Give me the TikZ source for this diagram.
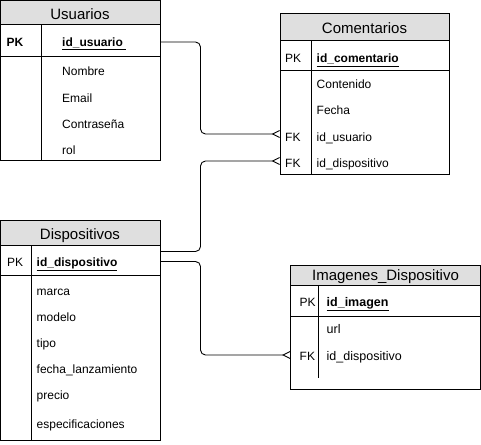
\documentclass[tikz,border=0pt]{standalone}
\usepackage{fontspec}
\setmainfont{Liberation Sans}
\usetikzlibrary{arrows.meta}

\begin{document}
\begin{tikzpicture}[x=1pt, y=-1pt,
  hdr/.style={fill=gray!25, draw=black, line width=1pt},
  box/.style={draw=black, line width=1pt},
  ttl/.style={anchor=base, font=\fontsize{15}{18}\selectfont, inner sep=0pt},
  fld/.style={anchor=base west, font=\fontsize{12}{14}\selectfont, inner sep=0pt},
  rel/.style={draw=black, line width=0.9pt, rounded corners=5pt,
    -{Straight Barb[reversed, length=7pt, width=7pt]}}]
\useasboundingbox (0,0) rectangle (481,444);

% Usuarios
\draw[hdr] (0.5,0.5) rectangle (160,25);
\draw[box] (0.5,0.5) rectangle (160,160.5);
\draw[box] (0.5,56) -- (160,56) (41,25) -- (41,160.5);
\node[ttl] (usr-ttl) at (80,19.5) {Usuarios};
\node[fld, font=\fontsize{12}{14}\selectfont\bfseries] (usr-pk) at (6.5,46.5) {PK};
\node[fld, font=\fontsize{12}{14}\selectfont\bfseries] (usr-id) at (62,46.5) {\underline{id\_usuario\ }};
\node[fld] (usr-nombre) at (62,75.5) {Nombre};
\node[fld] (usr-email) at (62,102) {Email};
\node[fld] (usr-pass) at (62,128.5) {Contraseña};
\node[fld] (usr-rol) at (62,154.5) {rol};
\coordinate (usr-out) at (160,42);

% Comentarios
\draw[hdr] (280,14) rectangle (449,41);
\draw[box] (280,14) rectangle (449,174);
\draw[box] (280,70) -- (449,70) (311,41) -- (311,174);
\node[ttl] (com-ttl) at (364.5,33.5) {Comentarios};
\node[fld] (com-pk) at (285,63) {PK};
\node[fld, font=\fontsize{12}{14}\selectfont\bfseries] (com-id) at (316.5,63) {\underline{id\_comentario}};
\node[fld] (com-cont) at (316.5,88.5) {Contenido};
\node[fld] (com-fecha) at (316.5,114.5) {Fecha};
\node[fld] (com-fk1) at (285,141) {FK};
\node[fld] (com-usr) at (316.5,141) {id\_usuario};
\node[fld] (com-fk2) at (285,167.5) {FK};
\node[fld] (com-disp) at (316.5,167.5) {id\_dispositivo};
\coordinate (com-in1) at (280,134);
\coordinate (com-in2) at (280,161);

% Dispositivos
\draw[hdr] (0.5,220) rectangle (160,245);
\draw[box] (0.5,220) rectangle (160,440);
\draw[box] (0.5,275) -- (160,275) (31,245) -- (31,440);
\node[ttl] (dis-ttl) at (80,239.5) {Dispositivos};
\node[fld] (dis-pk) at (7,266.5) {PK};
\node[fld, font=\fontsize{12}{14}\selectfont\bfseries] (dis-id) at (36.5,266.5) {\underline{id\_dispositivo}};
\node[fld] (dis-marca) at (36.5,295) {marca};
\node[fld] (dis-modelo) at (36.5,321.5) {modelo};
\node[fld] (dis-tipo) at (36.5,347) {tipo};
\node[fld] (dis-fecha) at (36.5,373.5) {fecha\_lanzamiento};
\node[fld] (dis-precio) at (36.5,399.5) {precio};
\node[fld] (dis-espec) at (36.5,428.5) {especificaciones};
\coordinate (dis-out1) at (160,251.5);
\coordinate (dis-out2) at (160,261.5);

% Imagenes_Dispositivo
\draw[hdr] (290.5,265) rectangle (480.5,285);
\draw[box] (290.5,265) rectangle (480.5,389);
\draw[box] (290.5,316) -- (480.5,316) (318,285) -- (318,378);
\node[ttl] (img-ttl) at (385.5,280.5) {Imagenes\_Dispositivo};
\node[fld] (img-pk) at (299.5,306) {PK};
\node[fld, font=\fontsize{12.5}{14}\selectfont\bfseries] (img-id) at (326.5,306) {\underline{id\_imagen}};
\node[fld, font=\fontsize{12.5}{14}\selectfont] (img-url) at (326.5,333.5) {url};
\node[fld] (img-fk) at (299.5,360.5) {FK};
\node[fld, font=\fontsize{12.5}{14}\selectfont] (img-disp) at (326.5,360.5) {id\_dispositivo};
\coordinate (img-in) at (290.5,355);

% relaciones
\draw[rel] (usr-out) -- (200.5,42) -- (200.5,134) -- (com-in1);
\draw[rel] (dis-out1) -- (200.5,251.5) -- (200.5,161) -- (com-in2);
\draw[rel] (dis-out2) -- (200.5,261.5) -- (200.5,355) -- (img-in);
\end{tikzpicture}
\end{document}
